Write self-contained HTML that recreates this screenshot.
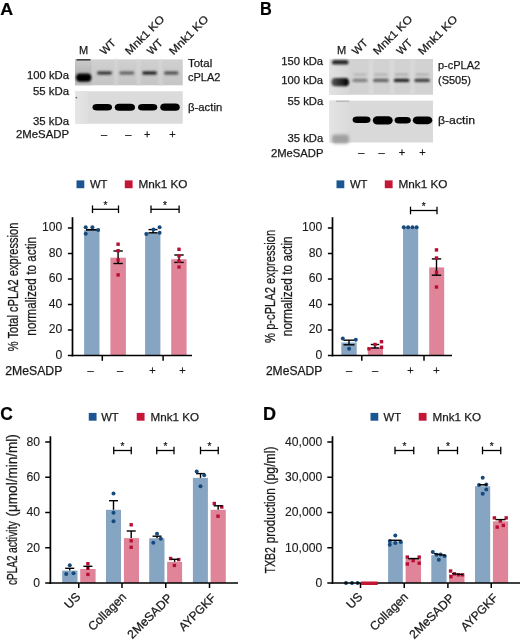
<!DOCTYPE html>
<html lang="en">
<head>
<meta charset="utf-8">
<title>Figure</title>
<style>
html,body{margin:0;padding:0;background:#fff;}
body{width:520px;height:641px;overflow:hidden;}
svg{display:block;font-family:"Liberation Sans", sans-serif;}
svg text{fill:#1a1a1a;stroke:#1a1a1a;stroke-width:0.25px;}
svg text.tk{stroke-width:0.1px;}
svg text.pl{fill:#000;stroke:#000;stroke-width:0.2px;}
</style>
</head>
<body>
<svg width="520" height="641" viewBox="0 0 520 641">
<defs>
<filter id="soft" x="0" y="0" width="520" height="641" filterUnits="userSpaceOnUse"><feGaussianBlur stdDeviation="0.45"/></filter>
<filter id="b05" x="-20%" y="-50%" width="140%" height="200%"><feGaussianBlur stdDeviation="0.5"/></filter>
<filter id="b07" x="-20%" y="-100%" width="140%" height="300%"><feGaussianBlur stdDeviation="0.7"/></filter>
<filter id="b1" x="-20%" y="-50%" width="140%" height="200%"><feGaussianBlur stdDeviation="0.9"/></filter>
<filter id="b15" x="-30%" y="-50%" width="160%" height="200%"><feGaussianBlur stdDeviation="1.4"/></filter>
<linearGradient id="gUA" x1="0" y1="0" x2="0" y2="1"><stop offset="0" stop-color="#d0d0d0"/><stop offset="1" stop-color="#c5c5c5"/></linearGradient>
<linearGradient id="gMA" x1="0" y1="0" x2="0" y2="1"><stop offset="0" stop-color="#cbcbcb"/><stop offset="0.55" stop-color="#b6b6b6"/><stop offset="1" stop-color="#c0c0c0"/></linearGradient>
<linearGradient id="gMA2" x1="0" y1="0" x2="1" y2="0"><stop offset="0" stop-color="#e6e6e6"/><stop offset="1" stop-color="#dedede"/></linearGradient>
<linearGradient id="gMB" x1="0" y1="0" x2="1" y2="0"><stop offset="0" stop-color="#e2e2e2"/><stop offset="1" stop-color="#d6d6d6"/></linearGradient>
<linearGradient id="gMB2" x1="0" y1="0" x2="1" y2="0"><stop offset="0" stop-color="#e4e4e4"/><stop offset="1" stop-color="#dadada"/></linearGradient>
<linearGradient id="gBand" x1="0" y1="0" x2="1" y2="0"><stop offset="0" stop-color="#555"/><stop offset="0.6" stop-color="#222"/><stop offset="1" stop-color="#000"/></linearGradient>
</defs>
<rect width="520" height="641" fill="#fff"/>
<g filter="url(#soft)">
<text x="0.3" y="14.9" font-size="17" textLength="12.9" lengthAdjust="spacingAndGlyphs" font-weight="bold" class="pl">A</text>
<text x="260.1" y="15" font-size="18" textLength="11.8" lengthAdjust="spacingAndGlyphs" font-weight="bold" class="pl">B</text>
<text x="0.2" y="420.2" font-size="18.6" textLength="12.6" lengthAdjust="spacingAndGlyphs" font-weight="bold" class="pl">C</text>
<text x="263" y="420" font-size="18" font-weight="bold" class="pl">D</text>
<g id="blotA">
<rect x="75.00" y="59.40" width="107.75" height="25.90" fill="url(#gUA)"/>
<rect x="75.00" y="59.40" width="16.50" height="25.90" fill="url(#gMA)"/>
<rect x="114.00" y="59.40" width="4.00" height="25.90" fill="#dadada" opacity="0.55" filter="url(#b1)"/>
<rect x="136.50" y="59.40" width="4.00" height="25.90" fill="#dadada" opacity="0.55" filter="url(#b1)"/>
<rect x="158.50" y="59.40" width="4.00" height="25.90" fill="#dadada" opacity="0.55" filter="url(#b1)"/>
<rect x="75.00" y="91.25" width="107.75" height="32.50" fill="#dbdbdb"/>
<rect x="75.00" y="91.25" width="13.50" height="32.50" fill="url(#gMA2)"/>
<rect x="76" y="73.6" width="15.4" height="8.2" rx="4" fill="#000" filter="url(#b1)"/>
<circle cx="76.4" cy="97.6" r="0.9" fill="#6a6a6a"/>
<rect x="76.5" y="59.2" width="14" height="1.3" fill="#222" filter="url(#b05)"/>
<rect x="97" y="71.3" width="15.00" height="3.4" rx="1.7" fill="#1e1e1e" opacity="0.8" filter="url(#b1)"/>
<rect x="119.4" y="71.3" width="15.00" height="3.4" rx="1.7" fill="#1e1e1e" opacity="0.55" filter="url(#b1)"/>
<rect x="142.25" y="71.3" width="14.75" height="3.4" rx="1.7" fill="#1e1e1e" opacity="0.92" filter="url(#b1)"/>
<rect x="164" y="71.3" width="14.50" height="3.4" rx="1.7" fill="#1e1e1e" opacity="0.65" filter="url(#b1)"/>
<rect x="92.5" y="103.90" width="19.50" height="6.6" rx="4.5" ry="3.30" fill="#000" filter="url(#b07)"/>
<rect x="114.75" y="103.70" width="20.25" height="7.0" rx="4.5" ry="3.50" fill="#000" filter="url(#b07)"/>
<rect x="138" y="103.90" width="19.25" height="6.6" rx="4.5" ry="3.30" fill="#000" filter="url(#b07)"/>
<rect x="160.25" y="103.60" width="19.50" height="7.2" rx="4.5" ry="3.60" fill="#000" filter="url(#b07)"/>
</g>
<text x="79" y="54" font-size="11">M</text>
<text transform="translate(104.5 55.5) rotate(-45)" font-size="11" textLength="17" lengthAdjust="spacingAndGlyphs">WT</text>
<text transform="translate(129.5 55.5) rotate(-45)" font-size="11" textLength="50.5" lengthAdjust="spacingAndGlyphs">Mnk1 KO</text>
<text transform="translate(151.5 55.5) rotate(-45)" font-size="11" textLength="17" lengthAdjust="spacingAndGlyphs">WT</text>
<text transform="translate(173.5 55.5) rotate(-45)" font-size="11" textLength="50.5" lengthAdjust="spacingAndGlyphs">Mnk1 KO</text>
<text x="27" y="79" font-size="11" textLength="42" lengthAdjust="spacingAndGlyphs">100 kDa</text>
<text x="33" y="94.5" font-size="11" textLength="36" lengthAdjust="spacingAndGlyphs">55 kDa</text>
<text x="33" y="124.5" font-size="11" textLength="36" lengthAdjust="spacingAndGlyphs">35 kDa</text>
<text x="16" y="138" font-size="11" textLength="53" lengthAdjust="spacingAndGlyphs">2MeSADP</text>
<text x="188" y="67" font-size="11" textLength="24.2" lengthAdjust="spacingAndGlyphs">Total</text>
<text x="188" y="81" font-size="11">cPLA2</text>
<text x="188" y="111" font-size="11" textLength="34.2" lengthAdjust="spacingAndGlyphs">β-actin</text>
<text x="104" y="137.5" font-size="11" text-anchor="middle">–</text>
<text x="128.4" y="137.5" font-size="11" text-anchor="middle">–</text>
<text x="147.3" y="137.5" font-size="11" text-anchor="middle">+</text>
<text x="172.5" y="137.5" font-size="11" text-anchor="middle">+</text>
<g id="blotB">
<rect x="329.40" y="59.00" width="103.60" height="35.75" fill="#d2d2d2"/>
<rect x="329.40" y="59.00" width="20.00" height="35.75" fill="url(#gMB)"/>
<rect x="369.00" y="59.00" width="4.00" height="35.75" fill="#e2e2e2" opacity="0.5" filter="url(#b1)"/>
<rect x="390.00" y="59.00" width="4.00" height="35.75" fill="#e2e2e2" opacity="0.5" filter="url(#b1)"/>
<rect x="410.50" y="59.00" width="4.00" height="35.75" fill="#e2e2e2" opacity="0.5" filter="url(#b1)"/>
<rect x="329.40" y="100.60" width="103.60" height="41.90" fill="#d9d9d9"/>
<rect x="329.40" y="100.60" width="20.00" height="41.90" fill="url(#gMB2)"/>
<rect x="336" y="100.7" width="13" height="1" fill="#aaa" filter="url(#b05)"/>
<rect x="332" y="60" width="16.5" height="4.6" rx="2.2" fill="#2a2a2a" filter="url(#b1)"/>
<rect x="331.5" y="78" width="17.5" height="8.2" rx="3.8" fill="url(#gBand)" filter="url(#b1)"/>
<rect x="332" y="134.5" width="17" height="9" rx="3" fill="#a0a0a0" filter="url(#b15)"/>
<rect x="352.5" y="78.7" width="15.00" height="3.4" rx="1.7" fill="#1c1c1c" opacity="0.45" filter="url(#b1)"/>
<rect x="353.5" y="73.6" width="13.00" height="2.2" rx="1" fill="#666" opacity="0.27" filter="url(#b1)"/>
<rect x="373" y="78.7" width="15.75" height="3.4" rx="1.7" fill="#1c1c1c" opacity="0.62" filter="url(#b1)"/>
<rect x="374" y="73.6" width="13.75" height="2.2" rx="1" fill="#666" opacity="0.29" filter="url(#b1)"/>
<rect x="393.75" y="78.7" width="15.65" height="3.4" rx="1.7" fill="#1c1c1c" opacity="0.97" filter="url(#b1)"/>
<rect x="394.75" y="73.6" width="13.65" height="2.2" rx="1" fill="#666" opacity="0.34" filter="url(#b1)"/>
<rect x="414.4" y="78.7" width="15.60" height="3.4" rx="1.7" fill="#1c1c1c" opacity="0.82" filter="url(#b1)"/>
<rect x="415.4" y="73.6" width="13.60" height="2.2" rx="1" fill="#666" opacity="0.32" filter="url(#b1)"/>
<rect x="352.6" y="116.60" width="17.90" height="6.4" rx="4.5" ry="3.20" fill="#000" filter="url(#b07)"/>
<rect x="372.8" y="116.20" width="19.90" height="8.4" rx="4.5" ry="4.20" fill="#000" filter="url(#b07)"/>
<rect x="394.6" y="116.90" width="16.20" height="6.6" rx="4.5" ry="3.30" fill="#000" filter="url(#b07)"/>
<rect x="412.8" y="116.40" width="19.50" height="7.8" rx="4.5" ry="3.90" fill="#000" filter="url(#b07)"/>
</g>
<text x="337" y="53.8" font-size="11">M</text>
<text transform="translate(356.5 55.5) rotate(-45)" font-size="11" textLength="17" lengthAdjust="spacingAndGlyphs">WT</text>
<text transform="translate(377.5 55.5) rotate(-45)" font-size="11" textLength="50.5" lengthAdjust="spacingAndGlyphs">Mnk1 KO</text>
<text transform="translate(401 55.5) rotate(-45)" font-size="11" textLength="17" lengthAdjust="spacingAndGlyphs">WT</text>
<text transform="translate(422.5 55.5) rotate(-45)" font-size="11" textLength="50.5" lengthAdjust="spacingAndGlyphs">Mnk1 KO</text>
<text x="281.3" y="64.8" font-size="11" textLength="41.8" lengthAdjust="spacingAndGlyphs">150 kDa</text>
<text x="281.3" y="83.8" font-size="11" textLength="41.8" lengthAdjust="spacingAndGlyphs">100 kDa</text>
<text x="287.6" y="105.3" font-size="11" textLength="35.6" lengthAdjust="spacingAndGlyphs">55 kDa</text>
<text x="287.6" y="142" font-size="11" textLength="35.6" lengthAdjust="spacingAndGlyphs">35 kDa</text>
<text x="271" y="156.5" font-size="11" textLength="52.5" lengthAdjust="spacingAndGlyphs">2MeSADP</text>
<text x="438" y="68.5" font-size="11">p-cPLA2</text>
<text x="438" y="83.5" font-size="11">(S505)</text>
<text x="438" y="123.5" font-size="11" textLength="37" lengthAdjust="spacingAndGlyphs">β-actin</text>
<text x="361.25" y="156" font-size="11" text-anchor="middle">–</text>
<text x="381.5" y="156" font-size="11" text-anchor="middle">–</text>
<text x="402" y="156" font-size="11" text-anchor="middle">+</text>
<text x="422.5" y="156" font-size="11" text-anchor="middle">+</text>
<rect x="84.10" y="230.20" width="15.40" height="125.30" fill="#86a5c2"/>
<rect x="110.40" y="257.70" width="15.50" height="97.80" fill="#e08599"/>
<rect x="145.10" y="232.50" width="15.30" height="123.00" fill="#86a5c2"/>
<rect x="171.20" y="259.20" width="15.40" height="96.30" fill="#e08599"/>
<line x1="72.50" y1="217.20" x2="72.50" y2="356.35" stroke="#000" stroke-width="1.7"/>
<line x1="71.65" y1="355.50" x2="192.00" y2="355.50" stroke="#000" stroke-width="1.7"/>
<line x1="67.90" y1="355.50" x2="72.50" y2="355.50" stroke="#000" stroke-width="1.5"/>
<text x="62.3" y="358.8" font-size="12.2" text-anchor="end" class="tk">0</text>
<line x1="67.90" y1="330.00" x2="72.50" y2="330.00" stroke="#000" stroke-width="1.5"/>
<text x="62.3" y="333.3" font-size="12.2" text-anchor="end" class="tk">20</text>
<line x1="67.90" y1="304.50" x2="72.50" y2="304.50" stroke="#000" stroke-width="1.5"/>
<text x="62.3" y="307.8" font-size="12.2" text-anchor="end" class="tk">40</text>
<line x1="67.90" y1="279.00" x2="72.50" y2="279.00" stroke="#000" stroke-width="1.5"/>
<text x="62.3" y="282.3" font-size="12.2" text-anchor="end" class="tk">60</text>
<line x1="67.90" y1="253.50" x2="72.50" y2="253.50" stroke="#000" stroke-width="1.5"/>
<text x="62.3" y="256.8" font-size="12.2" text-anchor="end" class="tk">80</text>
<line x1="67.90" y1="228.00" x2="72.50" y2="228.00" stroke="#000" stroke-width="1.5"/>
<text x="62.3" y="231.3" font-size="12.2" text-anchor="end" class="tk">100</text>
<line x1="102.30" y1="355.50" x2="102.30" y2="360.80" stroke="#000" stroke-width="1.5"/>
<line x1="163.10" y1="355.50" x2="163.10" y2="360.80" stroke="#000" stroke-width="1.5"/>
<line x1="86.00" y1="229.80" x2="99.30" y2="229.80" stroke="#000" stroke-width="1.8"/>
<circle cx="85.7" cy="227.3" r="2" fill="#17487c"/>
<circle cx="85.7" cy="233.7" r="2" fill="#17487c"/>
<circle cx="92.4" cy="227.3" r="2" fill="#17487c"/>
<circle cx="98.2" cy="230" r="2" fill="#17487c"/>
<line x1="118.10" y1="251.00" x2="118.10" y2="263.50" stroke="#000" stroke-width="1.4"/>
<line x1="113.40" y1="251.00" x2="122.80" y2="251.00" stroke="#000" stroke-width="1.4"/>
<line x1="113.40" y1="263.50" x2="122.80" y2="263.50" stroke="#000" stroke-width="1.4"/>
<rect x="116.40" y="242.50" width="3.4" height="3.4" fill="#b80f33"/>
<rect x="116.40" y="249.00" width="3.4" height="3.4" fill="#b80f33"/>
<rect x="116.40" y="258.30" width="3.4" height="3.4" fill="#b80f33"/>
<rect x="116.40" y="273.20" width="3.4" height="3.4" fill="#b80f33"/>
<line x1="153.00" y1="229.60" x2="153.00" y2="232.80" stroke="#000" stroke-width="1.4"/>
<line x1="148.50" y1="229.60" x2="157.50" y2="229.60" stroke="#000" stroke-width="1.4"/>
<line x1="148.50" y1="232.80" x2="157.50" y2="232.80" stroke="#000" stroke-width="1.4"/>
<circle cx="146.3" cy="234" r="2" fill="#17487c"/>
<circle cx="159.6" cy="227.3" r="2" fill="#17487c"/>
<circle cx="159.6" cy="232.8" r="2" fill="#17487c"/>
<circle cx="153.5" cy="229.6" r="2" fill="#17487c"/>
<line x1="179.00" y1="255.00" x2="179.00" y2="262.40" stroke="#000" stroke-width="1.4"/>
<line x1="174.30" y1="255.00" x2="183.70" y2="255.00" stroke="#000" stroke-width="1.4"/>
<line x1="174.30" y1="262.40" x2="183.70" y2="262.40" stroke="#000" stroke-width="1.4"/>
<rect x="177.30" y="247.60" width="3.4" height="3.4" fill="#b80f33"/>
<rect x="177.30" y="254.30" width="3.4" height="3.4" fill="#b80f33"/>
<rect x="177.30" y="259.50" width="3.4" height="3.4" fill="#b80f33"/>
<rect x="177.30" y="265.30" width="3.4" height="3.4" fill="#b80f33"/>
<line x1="92.50" y1="209.30" x2="118.50" y2="209.30" stroke="#000" stroke-width="1.3"/>
<line x1="92.50" y1="205.50" x2="92.50" y2="213.10" stroke="#000" stroke-width="1.3"/>
<line x1="118.50" y1="205.50" x2="118.50" y2="213.10" stroke="#000" stroke-width="1.3"/>
<text x="105.5" y="209.10000000000002" font-size="10" text-anchor="middle">*</text>
<line x1="151.00" y1="209.30" x2="179.10" y2="209.30" stroke="#000" stroke-width="1.3"/>
<line x1="151.00" y1="205.50" x2="151.00" y2="213.10" stroke="#000" stroke-width="1.3"/>
<line x1="179.10" y1="205.50" x2="179.10" y2="213.10" stroke="#000" stroke-width="1.3"/>
<text x="165.05" y="209.10000000000002" font-size="10" text-anchor="middle">*</text>
<rect x="76.50" y="180.40" width="7.80" height="7.80" fill="#1a5692"/>
<text x="90" y="188.2" font-size="11.7" textLength="17.5" lengthAdjust="spacingAndGlyphs">WT</text>
<rect x="124.80" y="180.40" width="7.80" height="7.80" fill="#c41234"/>
<text x="138.5" y="188.2" font-size="11.7" textLength="49" lengthAdjust="spacingAndGlyphs">Mnk1 KO</text>
<text x="5.3" y="375.4" font-size="12" textLength="57" lengthAdjust="spacingAndGlyphs">2MeSADP</text>
<text x="90.6" y="374.4" font-size="11" text-anchor="middle">–</text>
<text x="120" y="374.4" font-size="11" text-anchor="middle">–</text>
<text x="152.5" y="374.4" font-size="11" text-anchor="middle">+</text>
<text x="182.5" y="374.4" font-size="11" text-anchor="middle">+</text>
<text transform="translate(18.4 286.9) rotate(-90)" font-size="14.2" textLength="128.5" lengthAdjust="spacingAndGlyphs" text-anchor="middle">% Total cPLA2 expression</text>
<text transform="translate(36 286.3) rotate(-90)" font-size="14.2" textLength="98.7" lengthAdjust="spacingAndGlyphs" text-anchor="middle">normalized to actin</text>
<rect x="341.30" y="342.50" width="15.40" height="13.00" fill="#86a5c2"/>
<rect x="367.80" y="347.70" width="15.20" height="7.80" fill="#e08599"/>
<rect x="403.00" y="227.30" width="15.20" height="128.20" fill="#86a5c2"/>
<rect x="429.20" y="267.40" width="15.00" height="88.10" fill="#e08599"/>
<line x1="332.50" y1="217.20" x2="332.50" y2="356.35" stroke="#000" stroke-width="1.7"/>
<line x1="331.65" y1="355.50" x2="452.00" y2="355.50" stroke="#000" stroke-width="1.7"/>
<line x1="327.90" y1="355.50" x2="332.50" y2="355.50" stroke="#000" stroke-width="1.5"/>
<text x="322.3" y="358.8" font-size="12.2" text-anchor="end" class="tk">0</text>
<line x1="327.90" y1="330.00" x2="332.50" y2="330.00" stroke="#000" stroke-width="1.5"/>
<text x="322.3" y="333.3" font-size="12.2" text-anchor="end" class="tk">20</text>
<line x1="327.90" y1="304.50" x2="332.50" y2="304.50" stroke="#000" stroke-width="1.5"/>
<text x="322.3" y="307.8" font-size="12.2" text-anchor="end" class="tk">40</text>
<line x1="327.90" y1="279.00" x2="332.50" y2="279.00" stroke="#000" stroke-width="1.5"/>
<text x="322.3" y="282.3" font-size="12.2" text-anchor="end" class="tk">60</text>
<line x1="327.90" y1="253.50" x2="332.50" y2="253.50" stroke="#000" stroke-width="1.5"/>
<text x="322.3" y="256.8" font-size="12.2" text-anchor="end" class="tk">80</text>
<line x1="327.90" y1="228.00" x2="332.50" y2="228.00" stroke="#000" stroke-width="1.5"/>
<text x="322.3" y="231.3" font-size="12.2" text-anchor="end" class="tk">100</text>
<line x1="361.80" y1="355.50" x2="361.80" y2="360.80" stroke="#000" stroke-width="1.5"/>
<line x1="424.00" y1="355.50" x2="424.00" y2="360.80" stroke="#000" stroke-width="1.5"/>
<line x1="349.00" y1="340.20" x2="349.00" y2="344.80" stroke="#000" stroke-width="1.4"/>
<line x1="343.50" y1="340.20" x2="354.50" y2="340.20" stroke="#000" stroke-width="1.4"/>
<line x1="343.50" y1="344.80" x2="354.50" y2="344.80" stroke="#000" stroke-width="1.4"/>
<circle cx="342.8" cy="338.5" r="2" fill="#17487c"/>
<circle cx="355.8" cy="339.8" r="2" fill="#17487c"/>
<circle cx="349.1" cy="348.8" r="2" fill="#17487c"/>
<line x1="375.00" y1="344.50" x2="375.00" y2="348.00" stroke="#000" stroke-width="1.4"/>
<line x1="370.80" y1="344.50" x2="379.20" y2="344.50" stroke="#000" stroke-width="1.4"/>
<line x1="370.80" y1="348.00" x2="379.20" y2="348.00" stroke="#000" stroke-width="1.4"/>
<rect x="367.30" y="347.10" width="3.4" height="3.4" fill="#b80f33"/>
<rect x="373.30" y="342.80" width="3.4" height="3.4" fill="#b80f33"/>
<rect x="379.80" y="340.00" width="3.4" height="3.4" fill="#b80f33"/>
<rect x="379.80" y="345.60" width="3.4" height="3.4" fill="#b80f33"/>
<circle cx="403.8" cy="227.3" r="2" fill="#17487c"/>
<circle cx="408.1" cy="227.3" r="2" fill="#17487c"/>
<circle cx="412.5" cy="227.3" r="2" fill="#17487c"/>
<circle cx="416.6" cy="227.3" r="2" fill="#17487c"/>
<line x1="436.50" y1="258.90" x2="436.50" y2="275.20" stroke="#000" stroke-width="1.4"/>
<line x1="431.80" y1="258.90" x2="441.20" y2="258.90" stroke="#000" stroke-width="1.4"/>
<line x1="431.80" y1="275.20" x2="441.20" y2="275.20" stroke="#000" stroke-width="1.4"/>
<rect x="434.80" y="248.20" width="3.4" height="3.4" fill="#b80f33"/>
<rect x="434.80" y="256.30" width="3.4" height="3.4" fill="#b80f33"/>
<rect x="434.80" y="270.60" width="3.4" height="3.4" fill="#b80f33"/>
<rect x="434.80" y="285.30" width="3.4" height="3.4" fill="#b80f33"/>
<line x1="410.50" y1="210.50" x2="437.00" y2="210.50" stroke="#000" stroke-width="1.3"/>
<line x1="410.50" y1="206.70" x2="410.50" y2="214.30" stroke="#000" stroke-width="1.3"/>
<line x1="437.00" y1="206.70" x2="437.00" y2="214.30" stroke="#000" stroke-width="1.3"/>
<text x="423.75" y="210.3" font-size="10" text-anchor="middle">*</text>
<rect x="336.50" y="180.40" width="7.80" height="7.80" fill="#1a5692"/>
<text x="350" y="188.2" font-size="11.7" textLength="17.5" lengthAdjust="spacingAndGlyphs">WT</text>
<rect x="384.80" y="180.40" width="7.80" height="7.80" fill="#c41234"/>
<text x="398.5" y="188.2" font-size="11.7" textLength="49" lengthAdjust="spacingAndGlyphs">Mnk1 KO</text>
<text x="265.9" y="374.5" font-size="12" textLength="56.4" lengthAdjust="spacingAndGlyphs">2MeSADP</text>
<text x="349" y="373.5" font-size="11" text-anchor="middle">–</text>
<text x="375" y="373.5" font-size="11" text-anchor="middle">–</text>
<text x="410.5" y="373.5" font-size="11" text-anchor="middle">+</text>
<text x="436.5" y="373.5" font-size="11" text-anchor="middle">+</text>
<text transform="translate(274.7 286.4) rotate(-90)" font-size="14.2" textLength="113" lengthAdjust="spacingAndGlyphs" text-anchor="middle">% p-cPLA2 expression</text>
<text transform="translate(292.3 286.3) rotate(-90)" font-size="14.2" textLength="99.9" lengthAdjust="spacingAndGlyphs" text-anchor="middle">normalized to actin</text>
<rect x="62.20" y="570.60" width="15.30" height="12.40" fill="#86a5c2"/>
<rect x="80.20" y="569.00" width="15.40" height="14.00" fill="#e08599"/>
<rect x="106.00" y="509.80" width="15.00" height="73.20" fill="#86a5c2"/>
<rect x="123.90" y="538.10" width="15.10" height="44.90" fill="#e08599"/>
<rect x="149.20" y="538.30" width="15.30" height="44.70" fill="#86a5c2"/>
<rect x="167.10" y="561.90" width="15.00" height="21.10" fill="#e08599"/>
<rect x="192.90" y="477.90" width="15.00" height="105.10" fill="#86a5c2"/>
<rect x="210.60" y="509.80" width="15.20" height="73.20" fill="#e08599"/>
<line x1="50.40" y1="436.25" x2="50.40" y2="583.85" stroke="#000" stroke-width="1.7"/>
<line x1="49.55" y1="583.00" x2="238.00" y2="583.00" stroke="#000" stroke-width="1.7"/>
<line x1="45.20" y1="583.00" x2="50.40" y2="583.00" stroke="#000" stroke-width="1.5"/>
<text x="40.0" y="586.8" font-size="12.2" text-anchor="end" class="tk">0</text>
<line x1="45.20" y1="547.75" x2="50.40" y2="547.75" stroke="#000" stroke-width="1.5"/>
<text x="40.0" y="551.55" font-size="12.2" text-anchor="end" class="tk">20</text>
<line x1="45.20" y1="512.50" x2="50.40" y2="512.50" stroke="#000" stroke-width="1.5"/>
<text x="40.0" y="516.3" font-size="12.2" text-anchor="end" class="tk">40</text>
<line x1="45.20" y1="477.25" x2="50.40" y2="477.25" stroke="#000" stroke-width="1.5"/>
<text x="40.0" y="481.05" font-size="12.2" text-anchor="end" class="tk">60</text>
<line x1="45.20" y1="442.00" x2="50.40" y2="442.00" stroke="#000" stroke-width="1.5"/>
<text x="40.0" y="445.8" font-size="12.2" text-anchor="end" class="tk">80</text>
<line x1="78.75" y1="583.00" x2="78.75" y2="588.00" stroke="#000" stroke-width="1.5"/>
<line x1="122.00" y1="583.00" x2="122.00" y2="588.00" stroke="#000" stroke-width="1.5"/>
<line x1="165.75" y1="583.00" x2="165.75" y2="588.00" stroke="#000" stroke-width="1.5"/>
<line x1="209.50" y1="583.00" x2="209.50" y2="588.00" stroke="#000" stroke-width="1.5"/>
<line x1="69.70" y1="568.30" x2="69.70" y2="570.60" stroke="#000" stroke-width="1.4"/>
<line x1="65.20" y1="568.30" x2="74.20" y2="568.30" stroke="#000" stroke-width="1.4"/>
<circle cx="69.8" cy="565.2" r="2" fill="#17487c"/>
<circle cx="66.2" cy="574" r="2" fill="#17487c"/>
<circle cx="73.5" cy="573.2" r="2" fill="#17487c"/>
<rect x="86.20" y="562.00" width="3.4" height="3.4" fill="#b80f33"/>
<rect x="86.20" y="566.60" width="3.4" height="3.4" fill="#b80f33"/>
<rect x="86.20" y="572.70" width="3.4" height="3.4" fill="#b80f33"/>
<line x1="87.90" y1="566.30" x2="87.90" y2="569.00" stroke="#000" stroke-width="1.4"/>
<line x1="83.40" y1="566.30" x2="92.40" y2="566.30" stroke="#000" stroke-width="1.4"/>
<line x1="113.50" y1="500.70" x2="113.50" y2="509.80" stroke="#000" stroke-width="1.4"/>
<line x1="109.00" y1="500.70" x2="118.00" y2="500.70" stroke="#000" stroke-width="1.4"/>
<circle cx="113.5" cy="493.5" r="2" fill="#17487c"/>
<circle cx="113.5" cy="512.7" r="2" fill="#17487c"/>
<circle cx="113.5" cy="521.2" r="2" fill="#17487c"/>
<rect x="129.50" y="523.10" width="3.4" height="3.4" fill="#b80f33"/>
<rect x="129.50" y="539.10" width="3.4" height="3.4" fill="#b80f33"/>
<rect x="129.50" y="545.60" width="3.4" height="3.4" fill="#b80f33"/>
<line x1="131.20" y1="531.00" x2="131.20" y2="538.10" stroke="#000" stroke-width="1.4"/>
<line x1="126.70" y1="531.00" x2="135.70" y2="531.00" stroke="#000" stroke-width="1.4"/>
<line x1="157.00" y1="536.20" x2="157.00" y2="538.30" stroke="#000" stroke-width="1.4"/>
<line x1="152.50" y1="536.20" x2="161.50" y2="536.20" stroke="#000" stroke-width="1.4"/>
<circle cx="157" cy="533.7" r="2" fill="#17487c"/>
<circle cx="160.8" cy="538.8" r="2" fill="#17487c"/>
<circle cx="153.3" cy="542.7" r="2" fill="#17487c"/>
<rect x="168.90" y="556.80" width="3.4" height="3.4" fill="#b80f33"/>
<rect x="177.00" y="557.90" width="3.4" height="3.4" fill="#b80f33"/>
<rect x="172.70" y="563.70" width="3.4" height="3.4" fill="#b80f33"/>
<line x1="174.60" y1="559.30" x2="174.60" y2="561.90" stroke="#000" stroke-width="1.4"/>
<line x1="170.60" y1="559.30" x2="178.60" y2="559.30" stroke="#000" stroke-width="1.4"/>
<line x1="200.50" y1="473.60" x2="200.50" y2="477.90" stroke="#000" stroke-width="1.4"/>
<line x1="196.00" y1="473.60" x2="205.00" y2="473.60" stroke="#000" stroke-width="1.4"/>
<circle cx="196.7" cy="471.5" r="2" fill="#17487c"/>
<circle cx="204.2" cy="475.3" r="2" fill="#17487c"/>
<circle cx="200.5" cy="486.3" r="2" fill="#17487c"/>
<rect x="212.60" y="501.80" width="3.4" height="3.4" fill="#b80f33"/>
<rect x="220.10" y="505.30" width="3.4" height="3.4" fill="#b80f33"/>
<rect x="216.30" y="514.50" width="3.4" height="3.4" fill="#b80f33"/>
<line x1="218.20" y1="505.80" x2="218.20" y2="509.80" stroke="#000" stroke-width="1.4"/>
<line x1="213.70" y1="505.80" x2="222.70" y2="505.80" stroke="#000" stroke-width="1.4"/>
<line x1="113.75" y1="450.50" x2="131.25" y2="450.50" stroke="#000" stroke-width="1.3"/>
<line x1="113.75" y1="446.70" x2="113.75" y2="454.30" stroke="#000" stroke-width="1.3"/>
<line x1="131.25" y1="446.70" x2="131.25" y2="454.30" stroke="#000" stroke-width="1.3"/>
<text x="122.5" y="450.3" font-size="10" text-anchor="middle">*</text>
<line x1="156.75" y1="450.50" x2="174.00" y2="450.50" stroke="#000" stroke-width="1.3"/>
<line x1="156.75" y1="446.70" x2="156.75" y2="454.30" stroke="#000" stroke-width="1.3"/>
<line x1="174.00" y1="446.70" x2="174.00" y2="454.30" stroke="#000" stroke-width="1.3"/>
<text x="165.375" y="450.3" font-size="10" text-anchor="middle">*</text>
<line x1="200.50" y1="450.50" x2="218.25" y2="450.50" stroke="#000" stroke-width="1.3"/>
<line x1="200.50" y1="446.70" x2="200.50" y2="454.30" stroke="#000" stroke-width="1.3"/>
<line x1="218.25" y1="446.70" x2="218.25" y2="454.30" stroke="#000" stroke-width="1.3"/>
<text x="209.375" y="450.3" font-size="10" text-anchor="middle">*</text>
<rect x="88.75" y="412.90" width="7.80" height="7.80" fill="#1a5692"/>
<text x="101.25" y="420.7" font-size="11.7" textLength="17.5" lengthAdjust="spacingAndGlyphs">WT</text>
<rect x="136.75" y="412.90" width="7.80" height="7.80" fill="#c41234"/>
<text x="150.5" y="420.7" font-size="11.7" textLength="48.5" lengthAdjust="spacingAndGlyphs">Mnk1 KO</text>
<text transform="translate(16.9 585) rotate(-90)" font-size="14.2"><tspan x="0.00" textLength="29.50" lengthAdjust="spacingAndGlyphs">cPLA2</tspan> <tspan x="31.90" textLength="31.90" lengthAdjust="spacingAndGlyphs">activity</tspan> <tspan x="68.50" textLength="82.30" lengthAdjust="spacingAndGlyphs">(μmol/min/ml)</tspan></text>
<text transform="translate(81.3 597.6) rotate(-45)" font-size="12.2" text-anchor="end">US</text>
<text transform="translate(127.1 597.6) rotate(-45)" font-size="12.2" text-anchor="end">Collagen</text>
<text transform="translate(173 598.8) rotate(-45)" font-size="12.2" textLength="57.5" lengthAdjust="spacingAndGlyphs" text-anchor="end">2MeSADP</text>
<text transform="translate(216.6 598.8) rotate(-45)" font-size="12.2" textLength="46.5" lengthAdjust="spacingAndGlyphs" text-anchor="end">AYPGKF</text>
<rect x="388.10" y="541.50" width="14.70" height="41.50" fill="#86a5c2"/>
<rect x="405.60" y="558.80" width="15.40" height="24.20" fill="#e08599"/>
<rect x="431.30" y="555.20" width="15.30" height="27.80" fill="#86a5c2"/>
<rect x="449.00" y="574.40" width="15.50" height="8.60" fill="#e08599"/>
<rect x="475.00" y="486.20" width="15.20" height="96.80" fill="#86a5c2"/>
<rect x="492.90" y="521.30" width="15.20" height="61.70" fill="#e08599"/>
<circle cx="346" cy="583" r="1.9" fill="#123f70"/>
<circle cx="352" cy="583" r="1.9" fill="#123f70"/>
<circle cx="357.7" cy="583" r="1.9" fill="#123f70"/>
<rect x="361.00" y="581.70" width="16.50" height="3.30" fill="#c41234"/>
<line x1="332.50" y1="436.25" x2="332.50" y2="583.85" stroke="#000" stroke-width="1.7"/>
<line x1="331.65" y1="583.00" x2="520.00" y2="583.00" stroke="#000" stroke-width="1.7"/>
<line x1="327.30" y1="583.00" x2="332.50" y2="583.00" stroke="#000" stroke-width="1.5"/>
<text x="322.3" y="586.8" font-size="12.2" text-anchor="end" class="tk">0</text>
<line x1="327.30" y1="547.75" x2="332.50" y2="547.75" stroke="#000" stroke-width="1.5"/>
<text x="322.3" y="551.55" font-size="12.2" text-anchor="end" class="tk">10,000</text>
<line x1="327.30" y1="512.50" x2="332.50" y2="512.50" stroke="#000" stroke-width="1.5"/>
<text x="322.3" y="516.3" font-size="12.2" text-anchor="end" class="tk">20,000</text>
<line x1="327.30" y1="477.25" x2="332.50" y2="477.25" stroke="#000" stroke-width="1.5"/>
<text x="322.3" y="481.05" font-size="12.2" text-anchor="end" class="tk">30,000</text>
<line x1="327.30" y1="442.00" x2="332.50" y2="442.00" stroke="#000" stroke-width="1.5"/>
<text x="322.3" y="445.8" font-size="12.2" text-anchor="end" class="tk">40,000</text>
<line x1="360.50" y1="583.00" x2="360.50" y2="588.00" stroke="#000" stroke-width="1.5"/>
<line x1="404.25" y1="583.00" x2="404.25" y2="588.00" stroke="#000" stroke-width="1.5"/>
<line x1="447.90" y1="583.00" x2="447.90" y2="588.00" stroke="#000" stroke-width="1.5"/>
<line x1="491.25" y1="583.00" x2="491.25" y2="588.00" stroke="#000" stroke-width="1.5"/>
<rect x="361.00" y="581.70" width="16.50" height="3.30" fill="#c41234"/>
<circle cx="395.3" cy="535.4" r="2" fill="#17487c"/>
<circle cx="389.8" cy="541" r="2" fill="#17487c"/>
<circle cx="389.8" cy="544.8" r="2" fill="#17487c"/>
<circle cx="395.3" cy="543" r="2" fill="#17487c"/>
<circle cx="400.8" cy="542.1" r="2" fill="#17487c"/>
<line x1="389.50" y1="540.30" x2="401.50" y2="540.30" stroke="#000" stroke-width="1.5"/>
<rect x="405.60" y="555.40" width="3.4" height="3.4" fill="#b80f33"/>
<rect x="417.50" y="555.40" width="3.4" height="3.4" fill="#b80f33"/>
<rect x="411.50" y="558.90" width="3.4" height="3.4" fill="#b80f33"/>
<rect x="405.60" y="562.30" width="3.4" height="3.4" fill="#b80f33"/>
<rect x="417.50" y="561.50" width="3.4" height="3.4" fill="#b80f33"/>
<line x1="408.00" y1="558.60" x2="419.00" y2="558.60" stroke="#000" stroke-width="1.5"/>
<circle cx="432.8" cy="551.9" r="2" fill="#17487c"/>
<circle cx="436.5" cy="554.8" r="2" fill="#17487c"/>
<circle cx="440.6" cy="554.5" r="2" fill="#17487c"/>
<circle cx="444.6" cy="556" r="2" fill="#17487c"/>
<circle cx="438.8" cy="559.8" r="2" fill="#17487c"/>
<line x1="434.00" y1="553.60" x2="445.50" y2="555.40" stroke="#000" stroke-width="1.4"/>
<rect x="448.90" y="569.30" width="3.4" height="3.4" fill="#b80f33"/>
<rect x="452.70" y="572.10" width="3.4" height="3.4" fill="#b80f33"/>
<rect x="456.80" y="573.10" width="3.4" height="3.4" fill="#b80f33"/>
<rect x="460.80" y="573.10" width="3.4" height="3.4" fill="#b80f33"/>
<rect x="449.30" y="575.00" width="3.4" height="3.4" fill="#b80f33"/>
<line x1="452.00" y1="573.60" x2="463.00" y2="574.60" stroke="#000" stroke-width="1.3"/>
<circle cx="482.7" cy="477.8" r="2" fill="#17487c"/>
<circle cx="479" cy="485" r="2" fill="#17487c"/>
<circle cx="486.3" cy="484.4" r="2" fill="#17487c"/>
<circle cx="486.3" cy="489.6" r="2" fill="#17487c"/>
<circle cx="482.7" cy="493.7" r="2" fill="#17487c"/>
<line x1="479.00" y1="484.80" x2="487.00" y2="484.80" stroke="#000" stroke-width="1.5"/>
<rect x="492.70" y="516.20" width="3.4" height="3.4" fill="#b80f33"/>
<rect x="504.50" y="516.20" width="3.4" height="3.4" fill="#b80f33"/>
<rect x="498.70" y="519.30" width="3.4" height="3.4" fill="#b80f33"/>
<rect x="501.60" y="523.70" width="3.4" height="3.4" fill="#b80f33"/>
<rect x="495.50" y="525.40" width="3.4" height="3.4" fill="#b80f33"/>
<line x1="495.50" y1="519.60" x2="505.50" y2="519.60" stroke="#000" stroke-width="1.4"/>
<line x1="395.00" y1="450.50" x2="413.75" y2="450.50" stroke="#000" stroke-width="1.3"/>
<line x1="395.00" y1="446.70" x2="395.00" y2="454.30" stroke="#000" stroke-width="1.3"/>
<line x1="413.75" y1="446.70" x2="413.75" y2="454.30" stroke="#000" stroke-width="1.3"/>
<text x="404.375" y="450.3" font-size="10" text-anchor="middle">*</text>
<line x1="438.25" y1="450.50" x2="457.50" y2="450.50" stroke="#000" stroke-width="1.3"/>
<line x1="438.25" y1="446.70" x2="438.25" y2="454.30" stroke="#000" stroke-width="1.3"/>
<line x1="457.50" y1="446.70" x2="457.50" y2="454.30" stroke="#000" stroke-width="1.3"/>
<text x="447.875" y="450.3" font-size="10" text-anchor="middle">*</text>
<line x1="482.50" y1="450.50" x2="500.75" y2="450.50" stroke="#000" stroke-width="1.3"/>
<line x1="482.50" y1="446.70" x2="482.50" y2="454.30" stroke="#000" stroke-width="1.3"/>
<line x1="500.75" y1="446.70" x2="500.75" y2="454.30" stroke="#000" stroke-width="1.3"/>
<text x="491.625" y="450.3" font-size="10" text-anchor="middle">*</text>
<rect x="370.50" y="412.90" width="7.80" height="7.80" fill="#1a5692"/>
<text x="383.6" y="420.7" font-size="11.7" textLength="17.5" lengthAdjust="spacingAndGlyphs">WT</text>
<rect x="418.75" y="412.90" width="7.80" height="7.80" fill="#c41234"/>
<text x="432.5" y="420.7" font-size="11.7" textLength="48.5" lengthAdjust="spacingAndGlyphs">Mnk1 KO</text>
<text transform="translate(274.6 573.5) rotate(-90)" font-size="14.2"><tspan x="0.00" textLength="26.50" lengthAdjust="spacingAndGlyphs">TXB2</tspan> <tspan x="30.20" textLength="55.00" lengthAdjust="spacingAndGlyphs">production</tspan> <tspan x="89.00" textLength="38.00" lengthAdjust="spacingAndGlyphs">(pg/ml)</tspan></text>
<text transform="translate(363.3 597.6) rotate(-45)" font-size="12.2" text-anchor="end">US</text>
<text transform="translate(408.8 597.6) rotate(-45)" font-size="12.2" text-anchor="end">Collagen</text>
<text transform="translate(455 598.8) rotate(-45)" font-size="12.2" textLength="57.5" lengthAdjust="spacingAndGlyphs" text-anchor="end">2MeSADP</text>
<text transform="translate(498.6 598.8) rotate(-45)" font-size="12.2" textLength="46.5" lengthAdjust="spacingAndGlyphs" text-anchor="end">AYPGKF</text>
</g>
</svg>
</body>
</html>
